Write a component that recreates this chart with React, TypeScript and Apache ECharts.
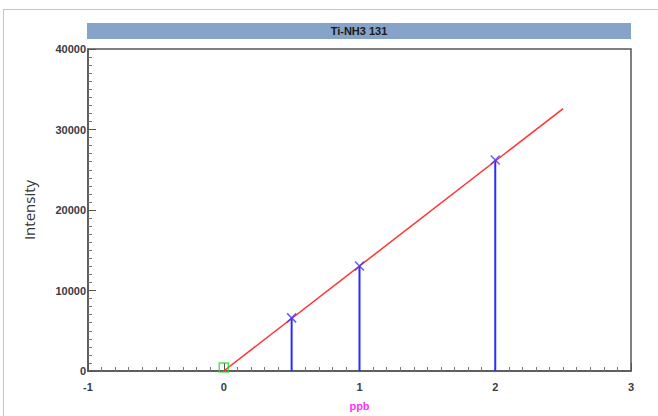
import React, { useEffect, useRef } from "react";
import * as echarts from "echarts";

const chartTitle = "Ti-NH3 131";
const stdConc = [0.5, 1, 2];
const stdIntensity = [6600, 13050, 26200];
const blankConc = [0];
const blankIntensity = [450];
const fitConc = [0, 2.5];
const fitIntensity = [0, 32600];

export default function App() {
  const ref = useRef<HTMLDivElement>(null);
  useEffect(() => {
    const chart = echarts.init(ref.current!, undefined, { renderer: "svg" });
    const labelStyle = {
      color: "#3a3a44",
      fontFamily: "Liberation Sans, Arial, sans-serif",
      fontWeight: "bold" as const,
      fontSize: 11,
      formatter: (v: number) => String(v),
    };
    chart.setOption({
      animation: false,
      backgroundColor: "#ffffff",
      grid: {
        left: 88,
        top: 49,
        right: 27,
        bottom: 45,
        show: true,
        borderColor: "#555555",
        borderWidth: 1.5,
        backgroundColor: "#ffffff",
      },
      graphic: [
        {
          type: "line",
          shape: { x1: 3, y1: 9.5, x2: 658, y2: 9.5 },
          style: { stroke: "#c4c4c4", lineWidth: 1 },
        },
        {
          type: "line",
          shape: { x1: 3.5, y1: 9, x2: 3.5, y2: 416 },
          style: { stroke: "#c4c4c4", lineWidth: 1 },
        },
        {
          type: "rect",
          shape: { x: 87, y: 23, width: 544, height: 16 },
          style: { fill: "#86a4c8" },
        },
        {
          type: "text",
          x: 359,
          y: 31,
          style: {
            text: chartTitle,
            align: "center",
            verticalAlign: "middle",
            fill: "#1a1a1a",
            font: "bold 11px 'Liberation Sans', Arial, sans-serif",
          },
        },
      ],
      xAxis: {
        type: "value",
        min: -1,
        max: 3,
        interval: 1,
        name: "ppb",
        nameLocation: "middle",
        nameGap: 29,
        nameTextStyle: {
          color: "#ff33ff",
          fontWeight: "bold",
          fontSize: 11,
          fontFamily: "Liberation Sans, Arial, sans-serif",
        },
        axisLine: { show: true, onZero: false, lineStyle: { color: "#555555", width: 1.5 } },
        axisTick: { show: true, inside: true, length: 8, lineStyle: { color: "#555555" } },
        minorTick: { show: true, splitNumber: 10, length: 4, lineStyle: { color: "#777777" } },
        splitLine: { show: false },
        axisLabel: { ...labelStyle, margin: 10 },
      },
      yAxis: {
        type: "value",
        min: 0,
        max: 40000,
        interval: 10000,
        name: "Intensity",
        nameLocation: "middle",
        nameGap: 52,
        nameTextStyle: {
          color: "#333333",
          fontSize: 15,
          fontFamily: "Open Sans, sans-serif",
          fontWeight: "normal",
        },
        axisLine: { show: true, onZero: false, lineStyle: { color: "#555555", width: 1.5 } },
        axisTick: { show: true, inside: true, length: 8, lineStyle: { color: "#555555" } },
        minorTick: { show: true, splitNumber: 10, length: 4, lineStyle: { color: "#777777" } },
        splitLine: { show: false },
        axisLabel: { ...labelStyle, margin: 2 },
      },
      series: [
        {
          type: "line",
          data: fitConc.map((c, i) => [c, fitIntensity[i]]),
          showSymbol: false,
          symbol: "none",
          lineStyle: { color: "#ff3333", width: 1.5 },
          z: 3,
        },
        {
          type: "custom",
          data: stdConc.map((c, i) => [c, stdIntensity[i]]),
          renderItem: (params: any, api: any) => {
            const top = api.coord([api.value(0), api.value(1)]);
            const bot = api.coord([api.value(0), 0]);
            return {
              type: "line",
              shape: { x1: top[0], y1: top[1], x2: bot[0], y2: bot[1] },
              style: { stroke: "#2b2bff", lineWidth: 2 },
            };
          },
          z: 2,
        },
        {
          type: "scatter",
          data: stdConc.map((c, i) => [c, stdIntensity[i]]),
          symbol: "path://M0,0L10,10M10,0L0,10",
          symbolSize: 9,
          itemStyle: { color: "transparent", borderColor: "#3a3aff", borderWidth: 1.5 },
          z: 4,
        },
        {
          type: "scatter",
          data: blankConc.map((c, i) => [c, blankIntensity[i]]),
          symbol: "rect",
          symbolSize: 9,
          itemStyle: { color: "transparent", borderColor: "#22dd22", borderWidth: 1.5 },
          z: 4,
        },
      ],
    });
    return () => chart.dispose();
  }, []);
  return (
    <div
      ref={ref}
      style={{ position: "fixed", left: 0, top: 0, width: 658, height: 416, background: "#fff" }}
    />
  );
}
